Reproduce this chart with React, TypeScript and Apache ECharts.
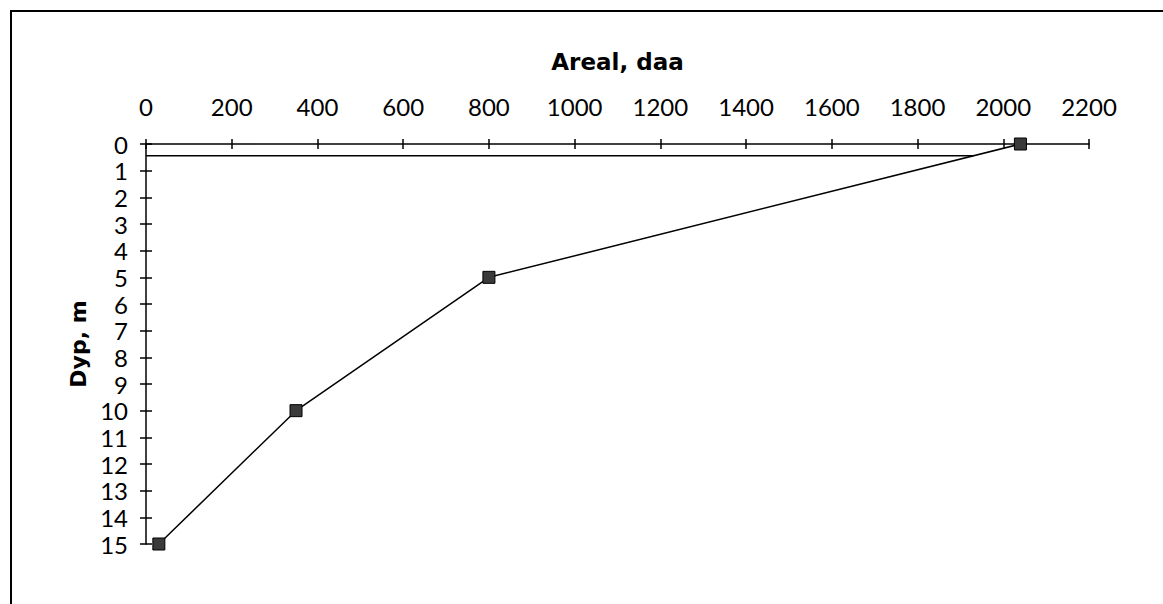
import React, { useEffect, useRef } from "react";
import * as echarts from "echarts";

const depths = [0, 5, 10, 15];
const areas = [2040, 800, 350, 30];
const waterLineAreas = [0, 1930];
const waterLineDepth = 0.44;
const xTitle = "Areal, daa";
const yTitle = "Dyp, m";

const FONT = "Lato, 'DejaVu Sans', sans-serif";
const TITLE_FONT = "'DejaVu Sans', sans-serif";

export default function App() {
  const ref = useRef<HTMLDivElement>(null);
  useEffect(() => {
    if (!ref.current) return;
    const chart = echarts.init(ref.current, undefined, { renderer: "svg" });
    const gridRect = { left: 146, top: 144, width: 943, height: 400 };
    const xBase = {
      type: "value" as const,
      min: 0,
      max: 2200,
      interval: 200,
      position: "top" as const,
      splitLine: { show: false },
    };
    const yBase = {
      type: "value" as const,
      min: 0,
      max: 15,
      interval: 1,
      inverse: true,
      position: "left" as const,
      splitLine: { show: false },
    };
    chart.setOption({
      animation: false,
      backgroundColor: "#ffffff",
      grid: [
        { ...gridRect, containLabel: false },
        { ...gridRect, containLabel: false },
      ],
      graphic: [
        {
          type: "rect",
          shape: { x: 11, y: 11, width: 1170, height: 620 },
          style: { fill: "none", stroke: "#000", lineWidth: 2 },
          silent: true,
        },
      ],
      xAxis: [
        {
          ...xBase,
          gridIndex: 0,
          name: xTitle,
          nameLocation: "middle",
          nameGap: 71,
          nameTextStyle: { fontFamily: TITLE_FONT, fontSize: 23, fontWeight: "bold", color: "#000" },
          axisLine: { show: true, onZero: false, lineStyle: { color: "#000", width: 1.5 } },
          axisTick: { show: true, inside: false, length: 5, lineStyle: { color: "#000", width: 1.5 } },
          axisLabel: {
            fontFamily: FONT,
            fontSize: 24,
            color: "#000",
            margin: 26,
            formatter: (v: number) => String(v),
          },
        },
        {
          ...xBase,
          gridIndex: 1,
          axisLine: { show: false, onZero: false },
          axisTick: { show: true, inside: true, length: 5, lineStyle: { color: "#000", width: 1.5 } },
          axisLabel: { show: false },
        },
      ],
      yAxis: [
        {
          ...yBase,
          gridIndex: 0,
          name: yTitle,
          nameLocation: "middle",
          nameGap: 56,
          nameRotate: 90,
          nameTextStyle: { fontFamily: TITLE_FONT, fontSize: 22, fontWeight: "bold", color: "#000" },
          axisLine: { show: true, onZero: false, lineStyle: { color: "#000", width: 1.5 } },
          axisTick: { show: true, inside: false, length: 6, lineStyle: { color: "#000", width: 1.5 } },
          axisLabel: {
            fontFamily: FONT,
            fontSize: 24,
            color: "#000",
            margin: 18,
            formatter: (v: number) => String(v),
          },
        },
        {
          ...yBase,
          gridIndex: 1,
          axisLine: { show: false, onZero: false },
          axisTick: { show: true, inside: true, length: 6, lineStyle: { color: "#000", width: 1.5 } },
          axisLabel: { show: false },
        },
      ],
      series: [
        {
          type: "line",
          xAxisIndex: 0,
          yAxisIndex: 0,
          data: waterLineAreas.map((a) => [a, waterLineDepth]),
          symbol: "none",
          lineStyle: { color: "#000", width: 1.5 },
          silent: true,
        },
        {
          type: "line",
          xAxisIndex: 0,
          yAxisIndex: 0,
          data: areas.map((a, i) => [a, depths[i]]),
          symbol: "rect",
          symbolSize: 12,
          lineStyle: { color: "#000", width: 1.5 },
          itemStyle: { color: "#3a3a3a", borderColor: "#000", borderWidth: 1 },
          silent: true,
        },
      ],
    });
    return () => chart.dispose();
  }, []);
  return (
    <div
      ref={ref}
      style={{ position: "fixed", left: 0, top: 0, width: 1163, height: 604, background: "#fff" }}
    />
  );
}
